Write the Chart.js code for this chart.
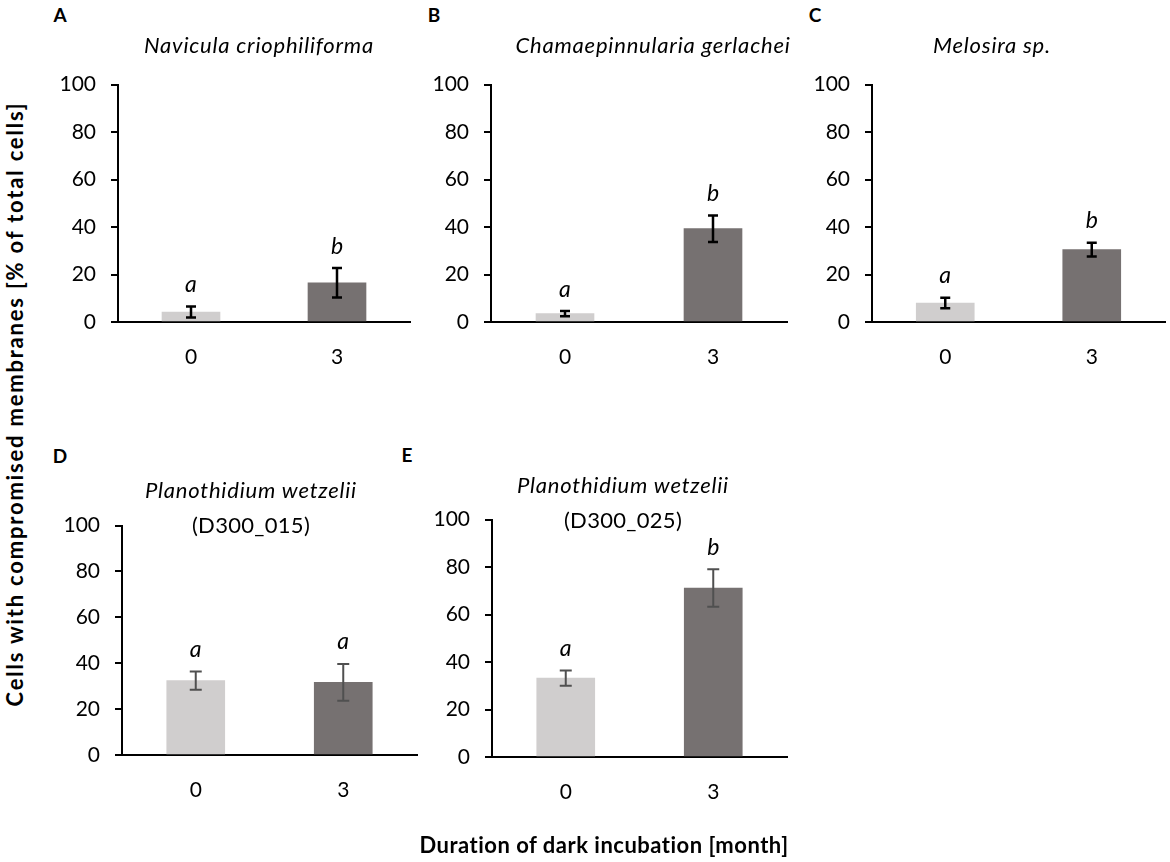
<!DOCTYPE html>
<html>
<head>
<meta charset="utf-8">
<script src="https://cdn.jsdelivr.net/npm/chart.js@4.4.1/dist/chart.umd.min.js"></script>
<style>
  body { margin: 0; background: #fff; font-family: Lato, sans-serif; }
  #page { position: relative; width: 1170px; height: 862px; overflow: hidden; }
  canvas { position: absolute; }
  .txt { position: absolute; white-space: nowrap; color: #000; line-height: 1; }
  .ttl { font-style: italic; font-size: 22px; letter-spacing: 0.8px; transform: translate(-50%, -50%); }
  .sub { font-size: 22px; letter-spacing: 0.3px; transform: translate(-50%, -50%); }
  .lab { font-weight: bold; font-size: 19px; transform: translate(-50%, -50%); }
  .axl { font-weight: bold; font-size: 22px; transform: translate(-50%, -50%); }
</style>
</head>
<body>
<div id="page">
  <canvas id="panelA" width="376" height="325" style="left:38px;top:57px"></canvas>
  <canvas id="panelB" width="380" height="325" style="left:411px;top:57px"></canvas>
  <canvas id="panelC" width="377" height="325" style="left:792px;top:57px"></canvas>
  <canvas id="panelD" width="379" height="317" style="left:42px;top:498px"></canvas>
  <canvas id="panelE" width="379" height="325" style="left:412px;top:492px"></canvas>

  <div class="txt lab" style="left:60px;top:14px">A</div>
  <div class="txt lab" style="left:434px;top:14px">B</div>
  <div class="txt lab" style="left:815px;top:14px">C</div>
  <div class="txt lab" style="left:60px;top:455px">D</div>
  <div class="txt lab" style="left:407px;top:454px">E</div>

  <div class="txt ttl" style="left:259px;top:45px">Navicula criophiliforma</div>
  <div class="txt ttl" style="left:653px;top:45px">Chamaepinnularia gerlachei</div>
  <div class="txt ttl" style="left:992px;top:45px">Melosira sp.</div>
  <div class="txt ttl" style="left:251px;top:490px">Planothidium wetzelii</div>
  <div class="txt sub" style="left:251px;top:525px">(D300_015)</div>
  <div class="txt ttl" style="left:623px;top:485px">Planothidium wetzelii</div>
  <div class="txt sub" style="left:623px;top:520px">(D300_025)</div>

  <div class="txt axl" style="left:15px;top:404px;letter-spacing:1.8px;transform:translate(-50%,-50%) rotate(-90deg)">Cells with compromised membranes [% of total cells]</div>
  <div class="txt axl" style="left:604px;top:845px;letter-spacing:0.5px">Duration of dark incubation [month]</div>
</div>

<script>
// months of dark incubation
const months = ['0', '3'];

// mean % of cells with compromised membranes, and error (±)
const navicula = [4.2, 16.5];
const naviculaErr = [2.3, 6.2];
const chamaepinnularia = [3.5, 39.3];
const chamaepinnulariaErr = [1.1, 5.6];
const melosira = [8.0, 30.5];
const melosiraErr = [2.2, 2.9];
const planothidium015 = [32.4, 31.7];
const planothidium015Err = [4.0, 8.0];
const planothidium025 = [33.2, 71.2];
const planothidium025Err = [3.2, 7.9];

// significance letters
const lettersA = ['a', 'b'];
const lettersB = ['a', 'b'];
const lettersC = ['a', 'b'];
const lettersD = ['a', 'a'];
const lettersE = ['a', 'b'];

const yMin = 0, yMax = 100, yStep = 20;

Chart.defaults.font.family = 'Lato, sans-serif';
Chart.defaults.color = '#000';

// draws error bars + letters above them
const errorBars = {
  id: 'errorBars',
  afterDatasetsDraw(chart, args, opts) {
    const ctx = chart.ctx;
    const y = chart.scales.y;
    const vals = chart.data.datasets[0].data;
    chart.getDatasetMeta(0).data.forEach((bar, i) => {
      const top = y.getPixelForValue(vals[i] + opts.errors[i]);
      const bot = y.getPixelForValue(vals[i] - opts.errors[i]);
      const x = bar.x;
      ctx.save();
      ctx.strokeStyle = opts.color;
      ctx.lineWidth = opts.width;
      ctx.beginPath();
      ctx.moveTo(x, top); ctx.lineTo(x, bot);
      ctx.moveTo(x - opts.cap, top); ctx.lineTo(x + opts.cap, top);
      ctx.moveTo(x - opts.cap, bot); ctx.lineTo(x + opts.cap, bot);
      ctx.stroke();
      ctx.fillStyle = '#000';
      ctx.font = 'italic 23px Lato, sans-serif';
      ctx.textAlign = 'center';
      ctx.textBaseline = 'middle';
      ctx.fillText(opts.letters[i], x, top - 22);
      ctx.restore();
    });
  }
};

function makePanel(id, values, errors, letters, errColor, cap, lw) {
  return new Chart(document.getElementById(id), {
    type: 'bar',
    data: {
      labels: months,
      datasets: [{
        data: values,
        backgroundColor: ['#d0cece', '#767171'],
        borderWidth: 0,
        barThickness: 58
      }]
    },
    options: {
      responsive: false,
      animation: false,
      layout: { padding: { top: 20, right: 4, bottom: 0, left: 0 } },
      plugins: {
        legend: { display: false },
        tooltip: { enabled: false },
        errorBars: { errors: errors, letters: letters, color: errColor, cap: cap, width: lw }
      },
      scales: {
        x: {
          grid: { display: false, drawTicks: false },
          border: { display: true, color: '#000', width: 2 },
          ticks: { font: { size: 21 }, padding: 23 },
          afterFit: s => { s.height = 60; }
        },
        y: {
          min: yMin, max: yMax,
          ticks: { stepSize: yStep, font: { size: 21 }, padding: 15 },
          grid: { drawOnChartArea: false, drawTicks: true, tickLength: 7, color: '#000', lineWidth: 2 },
          border: { display: true, color: '#000', width: 2 },
          afterFit: s => { s.width = 80; }
        }
      }
    },
    plugins: [errorBars]
  });
}

makePanel('panelA', navicula, naviculaErr, lettersA, '#000', 5, 2.5);
makePanel('panelB', chamaepinnularia, chamaepinnulariaErr, lettersB, '#000', 5, 2.5);
makePanel('panelC', melosira, melosiraErr, lettersC, '#000', 5, 2.5);
makePanel('panelD', planothidium015, planothidium015Err, lettersD, '#505050', 6, 2);
makePanel('panelE', planothidium025, planothidium025Err, lettersE, '#505050', 6, 2);
</script>
</body>
</html>
